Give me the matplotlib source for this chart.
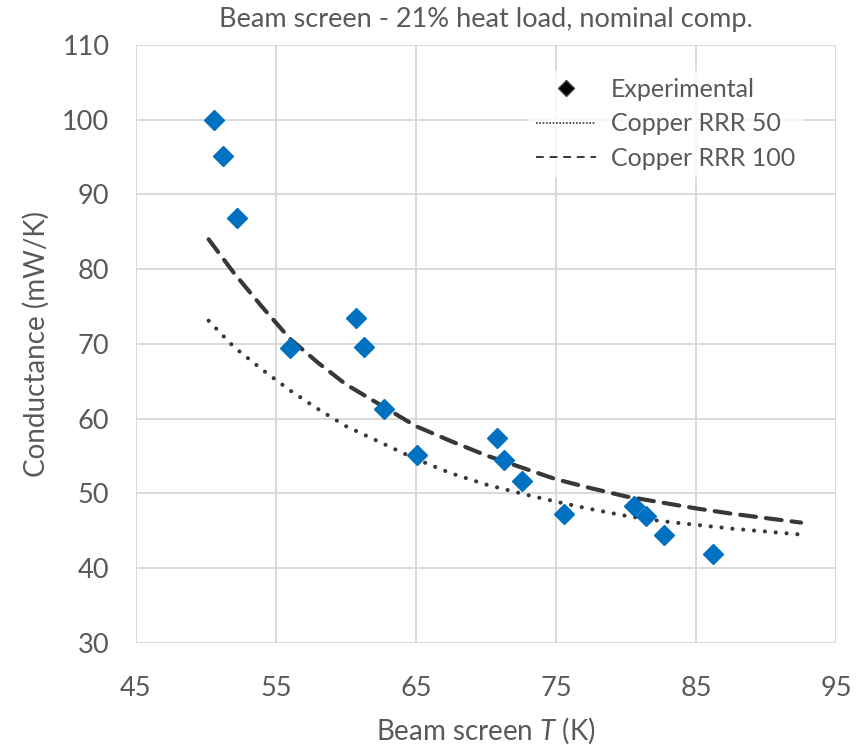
import matplotlib
matplotlib.use("Agg")
import matplotlib.pyplot as plt
from matplotlib.lines import Line2D

# measured conductance vs beam screen temperature
exp_T = [50.6, 51.2, 52.2, 56.0, 60.7, 61.3, 62.7, 65.1, 70.8, 71.3, 72.6, 75.6, 80.6, 81.4, 82.7, 86.2]
exp_G = [100.0, 95.1, 86.9, 69.5, 73.5, 69.6, 61.3, 55.1, 57.4, 54.5, 51.7, 47.3, 48.3, 47.0, 44.4, 41.9]

# model curves
model_T = [50.2, 52, 54, 56, 58, 60, 62.5, 65, 67.5, 70, 72.5, 75, 77.5, 80, 82.5, 85, 87.5, 90, 92.5]
rrr50_G = [73.1, 69.6, 66.6, 63.8, 61.3, 59.0, 56.8, 54.6, 52.7, 51.2, 50.0, 48.9, 47.9, 47.0, 46.3, 45.8, 45.3, 44.9, 44.5]
rrr100_G = [84.0, 79.5, 75.0, 70.7, 67.5, 64.6, 61.8, 59.0, 57.0, 55.1, 53.5, 51.9, 50.7, 49.6, 48.8, 48.0, 47.3, 46.7, 46.1]

x_ticks = [45, 55, 65, 75, 85, 95]
y_ticks = [30, 40, 50, 60, 70, 80, 90, 100, 110]

TXT = "#595959"
GRID = "#d9d9d9"
LINE = "#383838"
BLUE = "#0070c0"

plt.rcParams["font.family"] = ["Lato", "DejaVu Sans"]
plt.rcParams["mathtext.fontset"] = "custom"
plt.rcParams["mathtext.it"] = "Lato:italic"
plt.rcParams["mathtext.rm"] = "Lato"

fig = plt.figure(figsize=(8.65, 7.45), dpi=100)
ax = fig.add_axes([0.157, 0.137, 0.8095, 0.8027])

ax.plot(model_T, rrr50_G, color=LINE, lw=3.0, dashes=(0.01, 2.6),
        dash_capstyle="round", zorder=2)
ax.plot(model_T, rrr100_G, color=LINE, lw=3.0, dashes=(3.8, 2.4),
        dash_capstyle="round", zorder=2)
ax.plot(exp_T, exp_G, ls="none", marker="D", ms=10, color=BLUE,
        mec=BLUE, zorder=3)

ax.set_xlim(45, 95)
ax.set_ylim(30, 110)
ax.set_xticks(x_ticks)
ax.set_yticks(y_ticks)
ax.grid(True, color=GRID, lw=1.4)
ax.set_axisbelow(True)
for s in ax.spines.values():
    s.set_visible(False)
ax.tick_params(length=0, labelsize=19.5, labelcolor=TXT)
ax.tick_params(axis="x", pad=24)
ax.tick_params(axis="y", pad=19)

ax.set_xlabel(r"Beam screen $T$ (K)", fontsize=20, color=TXT, labelpad=10)
ax.set_ylabel("Conductance (mW/K)", fontsize=20, color=TXT, labelpad=9)
ax.set_title("Beam screen - 21% heat load, nominal comp.", fontsize=19.5,
             color=TXT, pad=13)

handles = [
    Line2D([], [], ls="none", marker="D", ms=8, color="black", mec="#404040"),
    Line2D([], [], color=LINE, lw=1.2, ls=(0, (1, 1))),
    Line2D([], [], color=LINE, lw=1.4, ls=(0, (4, 3))),
]
labels = ["Experimental", "Copper RRR 50", "Copper RRR 100"]
leg = ax.legend(handles, labels, loc="upper right", bbox_to_anchor=(0.97, 0.978),
                frameon=True, fontsize=18, handlelength=2.4, handletextpad=0.6,
                labelspacing=0.45, borderpad=0.3)
leg.get_frame().set_facecolor("white")
leg.get_frame().set_edgecolor("none")
for t in leg.get_texts():
    t.set_color(TXT)

fig.savefig("out.png", dpi=100)
